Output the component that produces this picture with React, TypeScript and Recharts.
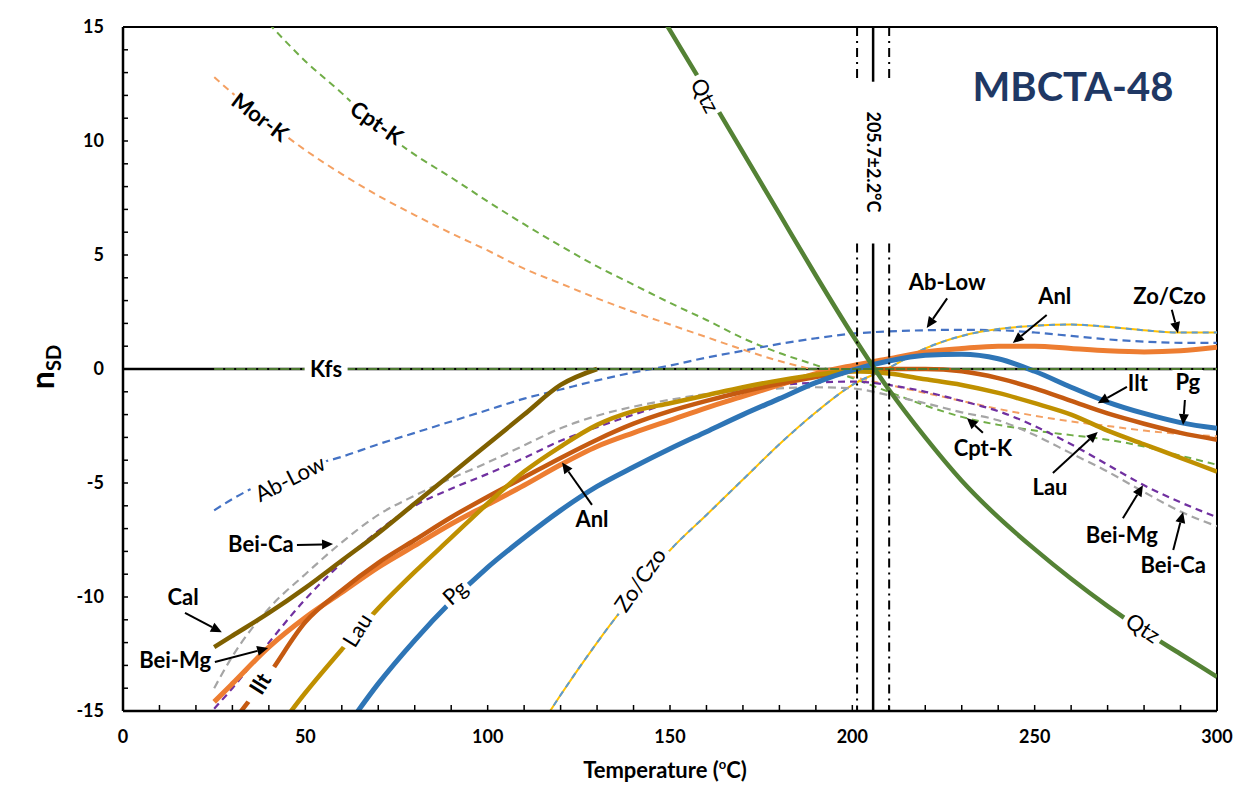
import React from 'react';
import { LineChart, Line, XAxis, YAxis, ReferenceLine, ReferenceDot } from 'recharts';

// temperature grid (°C) the curves were read at
const TEMPS = [25, 30, 40, 50, 60, 70, 80, 90, 100, 110, 120, 130, 140, 150, 160, 170, 180, 190, 200, 210, 220, 230, 240, 250, 260, 270, 280, 290, 300];

// nSD values per mineral, null where the curve is not drawn
const QTZ = [null, null, null, null, null, null, null, null, null, null, null, null, 17.5, 14.85, 12.2, 9.5, 6.8, 4.1, 1.5, -0.9, -3.0, -4.9, -6.5, -7.9, -9.2, -10.4, -11.5, -12.5, -13.5];
const KFS = [0, 0, 0, 0, 0, 0, 0, 0, 0, 0, 0, 0, 0, 0, 0, 0, 0, 0, 0, 0, 0, 0, 0, 0, 0, 0, 0, 0, 0];
const MOR_K = [12.8, 12.1, 10.8, 9.6, 8.55, 7.6, 6.75, 5.95, 5.2, 4.4, 3.75, 3.1, 2.5, 1.95, 1.4, 0.85, 0.35, -0.05, -0.35, -0.7, -1.05, -1.4, -1.75, -2.05, -2.3, -2.5, -2.7, -2.85, -2.95];
const CPT_K = [null, null, 15.15, 13.5, 12.1, 10.6, 9.4, 8.4, 7.35, 6.35, 5.4, 4.5, 3.7, 2.9, 2.15, 1.35, 0.7, 0.17, -0.4, -1.0, -1.6, -2.1, -2.45, -2.7, -2.9, -3.1, -3.4, -3.8, -4.2];
const AB_LOW = [-6.2, -5.7, -4.9, -4.3, -3.85, -3.3, -2.8, -2.3, -1.8, -1.3, -0.9, -0.5, -0.15, 0.15, 0.5, 0.8, 1.1, 1.35, 1.55, 1.65, 1.7, 1.72, 1.7, 1.6, 1.45, 1.3, 1.2, 1.15, 1.15];
const ZO_CZO = [null, null, null, null, null, null, null, null, null, -16.8, -14.3, -12.0, -9.9, -7.95, -6.4, -4.85, -3.3, -1.9, -0.7, 0.05, 0.9, 1.45, 1.75, 1.9, 1.95, 1.85, 1.7, 1.6, 1.6];
const ANL = [-14.6, -13.8, -12.2, -10.9, -9.8, -8.7, -7.75, -6.8, -5.95, -5.1, -4.2, -3.4, -2.8, -2.25, -1.7, -1.2, -0.7, -0.2, 0.15, 0.45, 0.75, 0.9, 1.0, 1.0, 0.9, 0.8, 0.75, 0.8, 0.95];
const PG = [null, null, null, null, -16.0, -13.8, -11.9, -10.2, -8.7, -7.4, -6.2, -5.15, -4.3, -3.5, -2.75, -2.0, -1.3, -0.6, -0.05, 0.35, 0.6, 0.65, 0.45, -0.1, -0.8, -1.45, -1.95, -2.35, -2.6];
const LAU = [null, null, -16.3, -14.2, -12.3, -10.5, -8.9, -7.4, -5.9, -4.5, -3.4, -2.45, -1.85, -1.5, -1.15, -0.8, -0.5, -0.25, -0.1, -0.2, -0.45, -0.7, -1.05, -1.5, -2.0, -2.7, -3.3, -3.9, -4.5];
const ILT = [null, -15.5, -13.4, -11.1, -9.7, -8.5, -7.5, -6.5, -5.6, -4.75, -3.9, -3.1, -2.4, -1.85, -1.4, -1.0, -0.65, -0.35, -0.1, 0.0, 0.0, -0.1, -0.4, -0.85, -1.4, -1.95, -2.4, -2.8, -3.1];
const BEI_MG = [-14.9, -14.0, -12.0, -10.1, -8.5, -7.1, -6.0, -5.25, -4.6, -3.9, -3.15, -2.55, -2.0, -1.5, -1.15, -0.9, -0.7, -0.6, -0.55, -0.7, -1.0, -1.4, -1.85, -2.5, -3.3, -4.2, -5.1, -5.85, -6.5];
const BEI_CA = [-14.0, -12.6, -10.5, -9.0, -7.6, -6.4, -5.55, -4.8, -4.1, -3.35, -2.6, -2.05, -1.65, -1.35, -1.1, -0.95, -0.85, -0.8, -0.85, -1.15, -1.5, -1.9, -2.25, -2.9, -3.7, -4.5, -5.4, -6.25, -6.9];
const CAL = [-12.2, -11.7, -10.7, -9.6, -8.4, -7.2, -5.9, -4.6, -3.3, -2.0, -0.7, 0, null, null, null, null, null, null, null, null, null, null, null, null, null, null, null, null, null];

const X_TICKS = [0, 10, 20, 30, 40, 50, 60, 70, 80, 90, 100, 110, 120, 130, 140, 150, 160, 170, 180, 190, 200, 210, 220, 230, 240, 250, 260, 270, 280, 290, 300];
const X_LABELED = [0, 50, 100, 150, 200, 250, 300];
const Y_TICKS = [-15, -14, -13, -12, -11, -10, -9, -8, -7, -6, -5, -4, -3, -2, -1, 0, 1, 2, 3, 4, 5, 6, 7, 8, 9, 10, 11, 12, 13, 14, 15];
const Y_LABELED = [-15, -10, -5, 0, 5, 10, 15];

const T_EST = 205.7;
const T_LOW = 201.3;
const T_HIGH = 210.1;

const rows = TEMPS.map((t, i) => ({
  t,
  qtz: QTZ[i], kfs: KFS[i], morK: MOR_K[i], cptK: CPT_K[i], abLow: AB_LOW[i], zo: ZO_CZO[i],
  anl: ANL[i], pg: PG[i], lau: LAU[i], ilt: ILT[i], beiMg: BEI_MG[i], beiCa: BEI_CA[i], cal: CAL[i],
}));

const FONT = 'Lato, "Open Sans", sans-serif';

const series = [
  { key: 'morK', color: '#f4a062', width: 2, dash: '7 5' },
  { key: 'cptK', color: '#70ad47', width: 2, dash: '7 5' },
  { key: 'abLow', color: '#4472c4', width: 2.2, dash: '8 5' },
  { key: 'zo', color: '#ffc000', width: 2, dash: undefined },
  { key: 'zo', color: '#5b9bd5', width: 2, dash: '6 5' },
  { key: 'beiCa', color: '#a5a5a5', width: 2.2, dash: '8 5' },
  { key: 'beiMg', color: '#7030a0', width: 2.2, dash: '7 5' },
  { key: 'anl', color: '#ed7d31', width: 5, dash: undefined },
  { key: 'ilt', color: '#c55a11', width: 4.5, dash: undefined },
  { key: 'lau', color: '#bf9000', width: 4.5, dash: undefined },
  { key: 'pg', color: '#2e75b6', width: 5, dash: undefined },
  { key: 'cal', color: '#7f6000', width: 4.5, dash: undefined },
  { key: 'qtz', color: '#548235', width: 4.5, dash: undefined },
  { key: 'kfs', color: '#4d7a30', width: 2, dash: '9 2' },
];

type Tag = { text: string; t: number; v: number; angle?: number; bold?: boolean; bg?: boolean; size?: number; color?: string };

// names written along the curves
const curveTags: Tag[] = [
  { text: 'Mor-K', t: 37.6, v: 11.05, angle: 37, bold: true, bg: true },
  { text: 'Cpt-K', t: 69.6, v: 10.8, angle: 35, bold: true, bg: true },
  { text: 'Qtz', t: 159.6, v: 12.0, angle: 62, bg: true },
  { text: 'Qtz', t: 279.7, v: -11.36, angle: 33, bg: true },
  { text: 'Kfs', t: 55.7, v: 0, bold: true, bg: true },
  { text: 'Ab-Low', t: 45.8, v: -4.8, angle: -27, bg: true },
  { text: 'Pg', t: 91, v: -9.8, angle: -42, bg: true },
  { text: 'Lau', t: 64.2, v: -11.45, angle: -58, bg: true },
  { text: 'Ilt', t: 37.6, v: -13.8, angle: -58, bold: true, bg: true },
  { text: 'Zo/Czo', t: 141.8, v: -9.25, angle: -55, bg: true },
];

// callouts with arrows: text position, arrow start, arrow tip
const callouts = [
  { text: 'Bei-Ca', t: 37.8, v: -7.7, from: [47.7, -7.72], to: [57.6, -7.68] },
  { text: 'Cal', t: 16.5, v: -10.0, from: [17, -10.7], to: [27.1, -11.55] },
  { text: 'Bei-Mg', t: 14.3, v: -12.76, from: [25.2, -12.85], to: [39.8, -12.24] },
  { text: 'Anl', t: 128.6, v: -6.6, from: [128.6, -5.96], to: [120.4, -4.1] },
  { text: 'Ab-Low', t: 226, v: 3.8, from: [226, 3.1], to: [220.4, 1.8] },
  { text: 'Anl', t: 255.5, v: 3.2, from: [253.3, 2.37], to: [244, 1.14] },
  { text: 'Zo/Czo', t: 287, v: 3.2, from: [287.6, 2.6], to: [289.3, 1.57] },
  { text: 'Ilt', t: 278.3, v: -0.6, from: [275.3, -0.78], to: [267.3, -1.5] },
  { text: 'Pg', t: 292, v: -0.57, from: [291.2, -1.36], to: [290.7, -2.46] },
  { text: 'Cpt-K', t: 235.8, v: -3.47, from: [235.8, -2.8], to: [231.4, -2.15] },
  { text: 'Lau', t: 254.2, v: -5.2, from: [255, -4.56], to: [267.3, -2.76] },
  { text: 'Bei-Mg', t: 273.9, v: -7.3, from: [274.2, -6.55], to: [279.7, -5.1] },
  { text: 'Bei-Ca', t: 288, v: -8.6, from: [288, -7.94], to: [290.7, -6.27] },
];

const tagShape = (tag: Tag) => (p: any) => {
  const { cx, cy } = p;
  const size = tag.size ?? 22;
  const w = tag.text.length * size * 0.56 + 6;
  const h = size + 2;
  return (
    <g transform={`rotate(${tag.angle ?? 0} ${cx} ${cy})`}>
      {tag.bg && <rect x={cx - w / 2} y={cy - h / 2} width={w} height={h} fill="#fff" />}
      <text x={cx} y={cy} dy="0.36em" textAnchor="middle" fontSize={size} fontFamily={FONT}
        fontWeight={tag.bold ? 700 : 400} fill={tag.color ?? '#000'}>{tag.text}</text>
    </g>
  );
};

const arrowShape = (p: any) => {
  const { x1, y1, x2, y2 } = p;
  const a = Math.atan2(y2 - y1, x2 - x1);
  const len = 11;
  const half = 5;
  const bx = x2 - len * Math.cos(a);
  const by = y2 - len * Math.sin(a);
  const pts = `${x2},${y2} ${bx + half * Math.sin(a)},${by - half * Math.cos(a)} ${bx - half * Math.sin(a)},${by + half * Math.cos(a)}`;
  return (
    <g>
      <line x1={x1} y1={y1} x2={bx} y2={by} stroke="#000" strokeWidth={2} />
      <polygon points={pts} fill="#000" />
    </g>
  );
};

const XTick = (p: any) => {
  const { x, y, payload } = p;
  const major = X_LABELED.includes(payload.value);
  return (
    <g>
      <line x1={x} y1={y} x2={x} y2={y - 6} stroke="#000" strokeWidth={1.5} />
      {major && (
        <text x={x} y={y + 32} textAnchor="middle" fontSize={18} fontWeight={700} fontFamily={FONT} fill="#000">
          {payload.value}
        </text>
      )}
    </g>
  );
};

const YTick = (p: any) => {
  const { x, y, payload } = p;
  const major = Y_LABELED.includes(payload.value);
  return (
    <g>
      <line x1={x} y1={y} x2={x + 5} y2={y} stroke="#000" strokeWidth={1.5} />
      {major && (
        <text x={x - 19} y={y} dy="0.36em" textAnchor="end" fontSize={18} fontWeight={700} fontFamily={FONT} fill="#000">
          {payload.value}
        </text>
      )}
    </g>
  );
};

const XTitle = (p: any) => {
  const { x, y, width } = p.viewBox;
  return (
    <text x={x + width / 2 - 5} y={y + 67} textAnchor="middle" fontSize={22} fontWeight={700} fontFamily={FONT} fill="#000">
      Temperature (<tspan fontSize={13} dy={-9}>o</tspan><tspan dy={9}>C)</tspan>
    </text>
  );
};

const YTitle = (p: any) => {
  const { x, y, height } = p.viewBox;
  const cx = x + 46;
  const cy = y + height / 2 - 2;
  return (
    <text transform={`rotate(-90 ${cx} ${cy})`} x={cx} y={cy} textAnchor="middle" fontWeight={700} fontFamily={FONT} fill="#000">
      <tspan fontSize={32}>n</tspan>
      <tspan fontSize={20} dy={7}>SD</tspan>
    </text>
  );
};

const gapTop = 12.6;
const gapBottom = 5.5;

export default function App() {
  return (
    <div style={{ width: 1260, height: 810, borderTop: '1px solid #d0d0d0', borderLeft: '1px solid #d0d0d0', margin: '-2px 0 0 -1px', background: '#fff' }}>
      <LineChart width={1238} height={795} data={rows} margin={{ top: 20, right: 29, left: 0, bottom: 11 }}>
        <XAxis
          type="number"
          dataKey="t"
          domain={[0, 300]}
          ticks={X_TICKS}
          interval={0}
          allowDataOverflow
          tickSize={0}
          tickMargin={0}
          tickLine={false}
          tick={<XTick />}
          axisLine={{ stroke: '#000', strokeWidth: 2.5 }}
          height={80}
          label={{ content: <XTitle /> }}
        />
        <YAxis
          type="number"
          domain={[-15, 15]}
          ticks={Y_TICKS}
          interval={0}
          allowDataOverflow
          tickSize={0}
          tickMargin={0}
          tickLine={false}
          tick={<YTick />}
          axisLine={{ stroke: '#000', strokeWidth: 2.5 }}
          width={115}
          label={{ content: <YTitle /> }}
        />
        <ReferenceLine y={15} stroke="#000" strokeWidth={2} />
        <ReferenceLine x={300} stroke="#000" strokeWidth={2} />
        <ReferenceLine y={0} stroke="#000" strokeWidth={2.5} />

        {series.map((s, i) => (
          <Line
            key={`${s.key}-${i}`}
            type="monotone"
            dataKey={s.key}
            stroke={s.color}
            strokeWidth={s.width}
            strokeDasharray={s.dash}
            dot={false}
            activeDot={false}
            isAnimationActive={false}
          />
        ))}

        {/* estimated temperature and its bounds, broken where the label sits */}
        <ReferenceLine segment={[{ x: T_EST, y: 15 }, { x: T_EST, y: gapTop }]} stroke="#000" strokeWidth={2.5} />
        <ReferenceLine segment={[{ x: T_EST, y: gapBottom }, { x: T_EST, y: -15 }]} stroke="#000" strokeWidth={2.5} />
        {[T_LOW, T_HIGH].map((t) => (
          <React.Fragment key={t}>
            <ReferenceLine segment={[{ x: t, y: 15 }, { x: t, y: gapTop }]} stroke="#000" strokeWidth={2} strokeDasharray="9 5 2 5" />
            <ReferenceLine segment={[{ x: t, y: gapBottom }, { x: t, y: -15 }]} stroke="#000" strokeWidth={2} strokeDasharray="9 5 2 5" />
          </React.Fragment>
        ))}

        {curveTags.map((tag, i) => (
          <ReferenceDot key={`tag-${i}`} x={tag.t} y={tag.v} r={0} shape={tagShape(tag)} />
        ))}
        {callouts.map((c, i) => (
          <ReferenceLine
            key={`arrow-${i}`}
            segment={[{ x: c.from[0], y: c.from[1] }, { x: c.to[0], y: c.to[1] }]}
            shape={arrowShape}
          />
        ))}
        {callouts.map((c, i) => (
          <ReferenceDot
            key={`note-${i}`}
            x={c.t}
            y={c.v}
            r={0}
            shape={tagShape({ text: c.text, t: c.t, v: c.v, bold: true, bg: c.text === 'Pg', size: 22 })}
          />
        ))}
        <ReferenceDot x={T_EST} y={9.08} r={0} shape={tagShape({ text: '205.7±2.2°C', t: T_EST, v: 9.08, angle: 90, bold: true, size: 18 })} />
        <ReferenceDot x={260.5} y={12.4} r={0} shape={tagShape({ text: 'MBCTA-48', t: 260.5, v: 12.4, bold: true, size: 40, color: '#1f3864' })} />
      </LineChart>
    </div>
  );
}
